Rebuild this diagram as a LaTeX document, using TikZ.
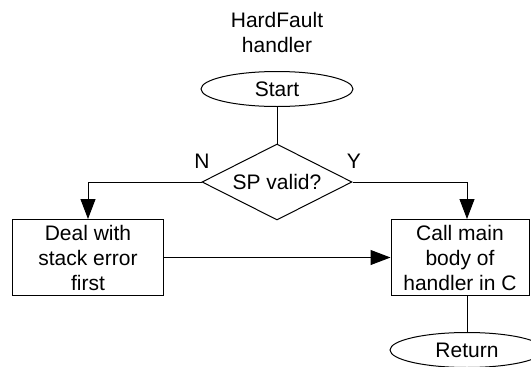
\documentclass[tikz,border=0pt]{standalone}
\usepackage{fontspec}
\setmainfont{Liberation Sans}
\usetikzlibrary{shapes.geometric,arrows.meta}

\begin{document}
\begin{tikzpicture}[
  x=1pt,y=-1pt,
  line width=1pt,
  font=\fontsize{21}{25}\selectfont,
  terminal/.style={
    ellipse,
    draw,
    inner sep=0pt,
    minimum width=154pt,
    minimum height=35pt
  },
  decision/.style={
    diamond,
    aspect=2,
    draw,
    inner sep=0pt,
    minimum width=150pt,
    minimum height=76pt
  },
  process/.style={
    rectangle,
    draw,
    align=center,
    inner sep=0pt,
    minimum height=76pt
  },
  flow/.style={-{Triangle[length=20pt,width=15pt]}}
]
  \clip (0,0) rectangle (531,367);
  \node[align=center] (title) at (277,32) {HardFault\\handler};
  \node[terminal,minimum width=152pt] (start) at (277,89) {Start};
  \node[decision] (check) at (277,182) {SP valid?};
  \node[process,minimum width=151pt] (deal) at (88,257.5) {Deal with\\stack error\\first};
  \node[process,minimum width=138pt] (body) at (460,257.5) {Call main\\body of\\handler in C};
  \node[terminal] (return) at (467,350) {Return};
  \node (no) at (202,161) {N};
  \node (yes) at (354,161) {Y};
  \draw (start) -- (check);
  \draw[flow] (check.west) -| (deal.north);
  \draw[flow] (check.east) -| ([xshift=7pt]body.north);
  \draw[flow] (deal.east) -- (body.west);
  \draw ([xshift=7pt]body.south) -- (return);
\end{tikzpicture}
\end{document}
